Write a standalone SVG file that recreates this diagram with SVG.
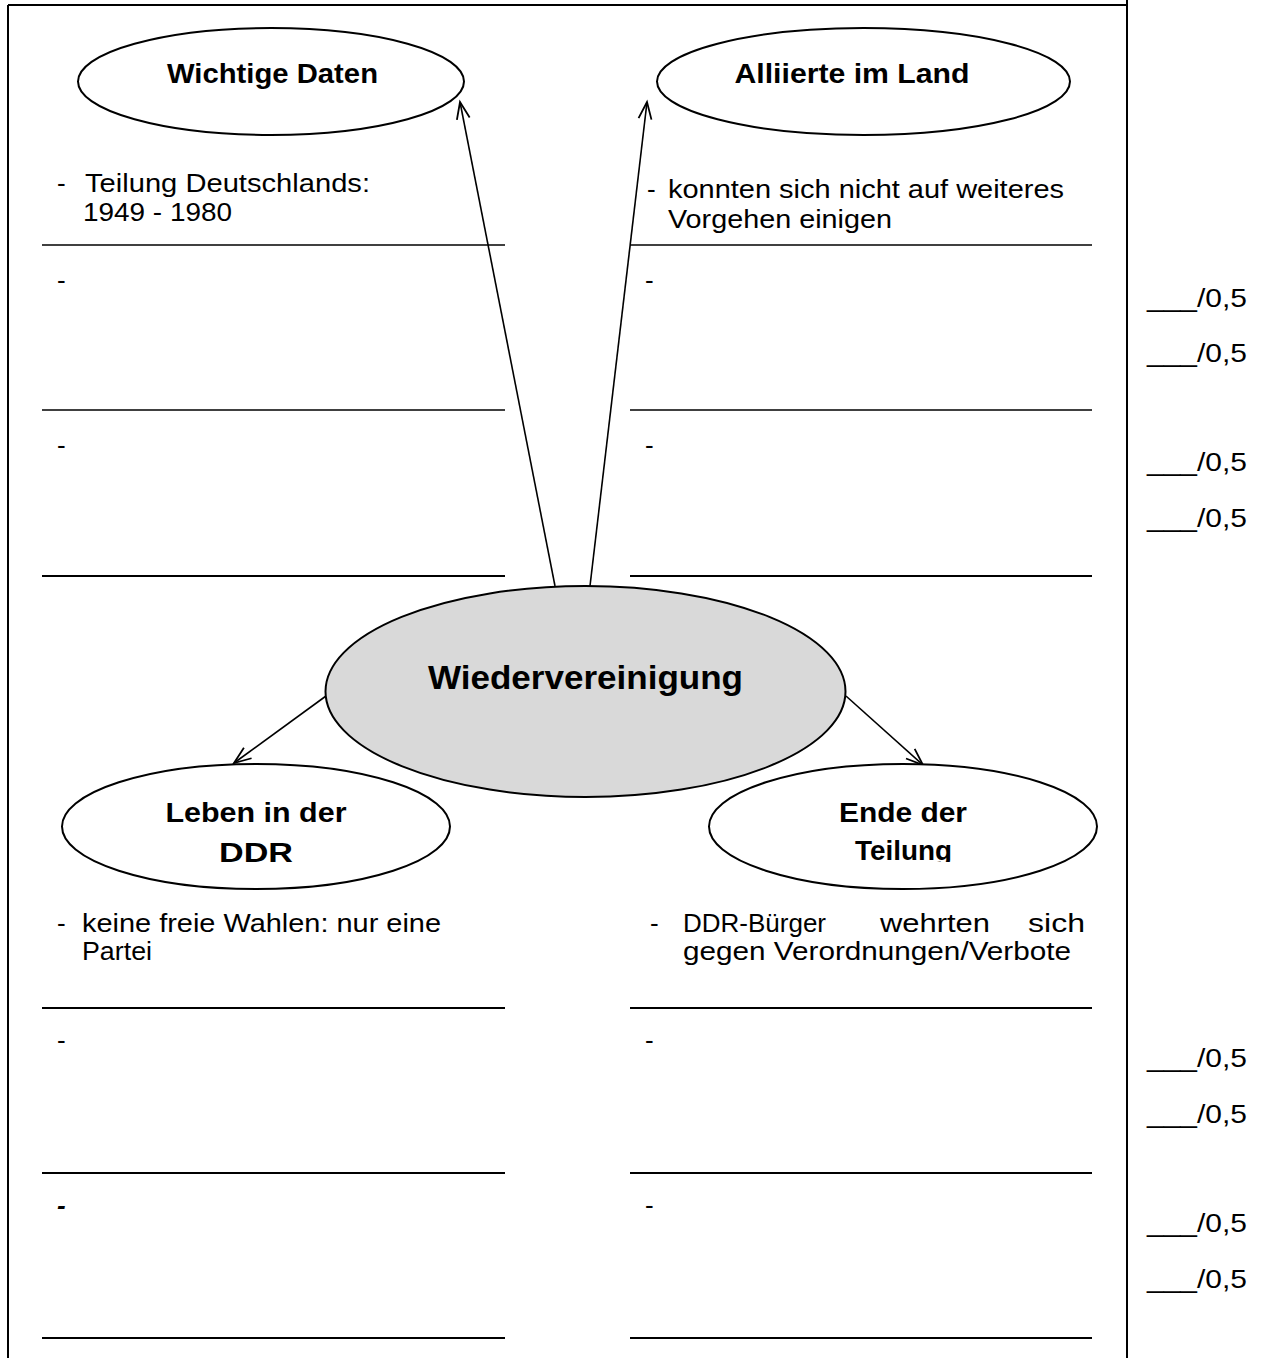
<svg xmlns="http://www.w3.org/2000/svg" width="1274" height="1358" viewBox="0 0 1274 1358">
  <style>
    .frame { stroke: #000; stroke-width: 2; fill: none; }
    .rule-thin { stroke: #000; stroke-width: 1.3; }
    .rule { stroke: #000; stroke-width: 2; }
    .node { fill: #fff; stroke: #000; stroke-width: 2; }
    .center { fill: #d9d9d9; stroke: #000; stroke-width: 2; }
    .label { font-family: "Liberation Sans", Arial, sans-serif; font-weight: bold; font-size: 27px; fill: #000; }
    .title { font-family: "Liberation Sans", Arial, sans-serif; font-weight: bold; font-size: 34px; fill: #000; }
    .body { font-family: "Liberation Sans", Arial, sans-serif; font-size: 26px; fill: #000; }
    .conn { stroke: #000; stroke-width: 1.6; fill: none; }
  </style>
  <defs>
    <marker id="arrow" markerUnits="userSpaceOnUse" markerWidth="24" markerHeight="16" refX="0" refY="0" viewBox="-20 -8 22 16" orient="auto" overflow="visible">
      <path d="M -17 -6.5 L 0 0 L -17 6.5" fill="none" stroke="#000" stroke-width="1.8"/>
    </marker>
    <clipPath id="clipTeilung">
      <rect x="820" y="830" width="160" height="32"/>
    </clipPath>
  </defs>
  <rect width="1274" height="1358" fill="#fff"/>

  <!-- page frame -->
  <g id="frame">
    <line class="frame" x1="8" y1="5" x2="1127" y2="5"/>
    <line class="frame" x1="8" y1="5" x2="8" y2="1358"/>
    <line class="frame" x1="1127" y1="0" x2="1127" y2="1358"/>
  </g>

  <!-- writing rules -->
  <g id="rules">
    <line class="rule-thin" x1="42" y1="245" x2="505" y2="245"/>
    <line class="rule-thin" x1="630" y1="245" x2="1092" y2="245"/>
    <line class="rule-thin" x1="42" y1="410" x2="505" y2="410"/>
    <line class="rule-thin" x1="630" y1="410" x2="1092" y2="410"/>
    <line class="rule" x1="42" y1="576" x2="505" y2="576"/>
    <line class="rule" x1="630" y1="576" x2="1092" y2="576"/>
    <line class="rule" x1="42" y1="1008" x2="505" y2="1008"/>
    <line class="rule" x1="630" y1="1008" x2="1092" y2="1008"/>
    <line class="rule" x1="42" y1="1173" x2="505" y2="1173"/>
    <line class="rule" x1="630" y1="1173" x2="1092" y2="1173"/>
    <line class="rule" x1="42" y1="1338" x2="505" y2="1338"/>
    <line class="rule" x1="630" y1="1338" x2="1092" y2="1338"/>
  </g>

  <!-- connectors -->
  <g id="connectors">
    <line class="conn" x1="555" y1="586" x2="460" y2="102" marker-end="url(#arrow)"/>
    <line class="conn" x1="590" y1="586" x2="647" y2="102" marker-end="url(#arrow)"/>
    <line class="conn" x1="326" y1="696" x2="234" y2="763" marker-end="url(#arrow)"/>
    <line class="conn" x1="846" y1="696" x2="923" y2="765" marker-end="url(#arrow)"/>
  </g>

  <!-- nodes -->
  <g id="node-wichtige-daten">
    <ellipse class="node" cx="271" cy="81.5" rx="193" ry="53.5"/>
    <text class="label" x="272.5" y="83" text-anchor="middle" textLength="211" lengthAdjust="spacingAndGlyphs">Wichtige Daten</text>
  </g>
  <g id="node-alliierte">
    <ellipse class="node" cx="863.5" cy="81.5" rx="206.5" ry="53.5"/>
    <text class="label" x="852" y="83" text-anchor="middle" textLength="235" lengthAdjust="spacingAndGlyphs">Alliierte im Land</text>
  </g>
  <g id="node-wiedervereinigung">
    <ellipse class="center" cx="585.5" cy="691.5" rx="260" ry="105.5"/>
    <text class="title" x="585.5" y="689" text-anchor="middle" textLength="315" lengthAdjust="spacingAndGlyphs">Wiedervereinigung</text>
  </g>
  <g id="node-leben">
    <ellipse class="node" cx="256" cy="826.5" rx="194" ry="62.5"/>
    <text class="label" x="256" y="822" text-anchor="middle" textLength="181" lengthAdjust="spacingAndGlyphs">Leben in der</text>
    <text class="label" x="256" y="862" text-anchor="middle" textLength="74" lengthAdjust="spacingAndGlyphs">DDR</text>
  </g>
  <g id="node-ende">
    <ellipse class="node" cx="903" cy="826.5" rx="194" ry="62.5"/>
    <text class="label" x="903" y="822" text-anchor="middle" textLength="128" lengthAdjust="spacingAndGlyphs">Ende der</text>
    <text class="label" x="903.5" y="860" text-anchor="middle" textLength="97" lengthAdjust="spacingAndGlyphs" clip-path="url(#clipTeilung)">Teilung</text>
  </g>

  <!-- notes -->
  <g id="notes">
    <text class="body" x="57" y="192">-</text>
    <text class="body" x="85" y="192" textLength="285" lengthAdjust="spacingAndGlyphs">Teilung Deutschlands:</text>
    <text class="body" x="83" y="221" textLength="149" lengthAdjust="spacingAndGlyphs">1949 - 1980</text>

    <text class="body" x="647" y="198">-</text>
    <text class="body" x="668" y="198" textLength="396" lengthAdjust="spacingAndGlyphs">konnten sich nicht auf weiteres</text>
    <text class="body" x="668" y="228" textLength="224" lengthAdjust="spacingAndGlyphs">Vorgehen einigen</text>

    <text class="body" x="57" y="289">-</text>
    <text class="body" x="645" y="289">-</text>
    <text class="body" x="57" y="454">-</text>
    <text class="body" x="645" y="454">-</text>

    <text class="body" x="57" y="932">-</text>
    <text class="body" x="82" y="932" textLength="359" lengthAdjust="spacingAndGlyphs">keine freie Wahlen: nur eine</text>
    <text class="body" x="82" y="960" textLength="70" lengthAdjust="spacingAndGlyphs">Partei</text>

    <text class="body" x="650" y="932">-</text>
    <text class="body" x="683" y="932" textLength="143" lengthAdjust="spacingAndGlyphs">DDR-Bürger</text>
    <text class="body" x="880" y="932" textLength="110" lengthAdjust="spacingAndGlyphs">wehrten</text>
    <text class="body" x="1028" y="932" textLength="57" lengthAdjust="spacingAndGlyphs">sich</text>
    <text class="body" x="683" y="960" textLength="388" lengthAdjust="spacingAndGlyphs">gegen Verordnungen/Verbote</text>

    <text class="body" x="57" y="1049">-</text>
    <text class="body" x="645" y="1049">-</text>
    <text class="body" x="57" y="1214" font-style="italic" font-weight="bold">-</text>
    <text class="body" x="645" y="1214">-</text>
  </g>

  <!-- scores -->
  <g id="scores">
    <text class="body" x="1147" y="307" textLength="100" lengthAdjust="spacingAndGlyphs">___/0,5</text>
    <text class="body" x="1147" y="362" textLength="100" lengthAdjust="spacingAndGlyphs">___/0,5</text>
    <text class="body" x="1147" y="471" textLength="100" lengthAdjust="spacingAndGlyphs">___/0,5</text>
    <text class="body" x="1147" y="527" textLength="100" lengthAdjust="spacingAndGlyphs">___/0,5</text>
    <text class="body" x="1147" y="1067" textLength="100" lengthAdjust="spacingAndGlyphs">___/0,5</text>
    <text class="body" x="1147" y="1123" textLength="100" lengthAdjust="spacingAndGlyphs">___/0,5</text>
    <text class="body" x="1147" y="1232" textLength="100" lengthAdjust="spacingAndGlyphs">___/0,5</text>
    <text class="body" x="1147" y="1288" textLength="100" lengthAdjust="spacingAndGlyphs">___/0,5</text>
  </g>
</svg>
